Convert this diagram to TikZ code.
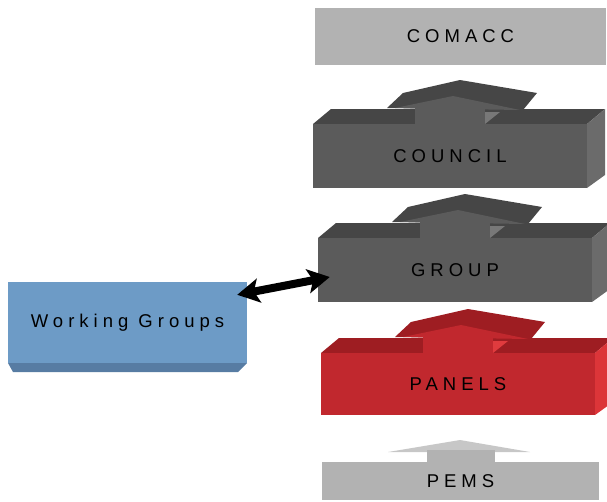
\documentclass[tikz,border=0pt]{standalone}
\usepackage{fontspec}
\usetikzlibrary{arrows.meta,calc}
\newfontfamily\boxfont[LetterSpace=27]{Liberation Sans}
\newlength{\du}
\setlength{\du}{1pt}

\begin{document}
\begin{tikzpicture}[
  face/.style={inner sep=0pt,font=\boxfont\fontsize{18.5}{20}\selectfont},
  linkarrow/.style={line width=8\du,{Stealth[length=22pt,width=24pt,inset=5pt]}-{Stealth[length=22pt,width=24pt,inset=5pt]}}]
\pgftransformxscale{1.000000}
\pgftransformyscale{-1.000000}
\definecolor{flatgrey}{rgb}{0.698000, 0.698000, 0.698000}
\definecolor{flatlight}{rgb}{0.780000, 0.780000, 0.780000}
\definecolor{greyfront}{rgb}{0.356000, 0.356000, 0.356000}
\definecolor{greytop}{rgb}{0.275000, 0.275000, 0.275000}
\definecolor{greyside}{rgb}{0.420000, 0.420000, 0.420000}
\definecolor{greylight}{rgb}{0.470000, 0.470000, 0.470000}
\definecolor{redfront}{rgb}{0.757000, 0.157000, 0.180000}
\definecolor{redtop}{rgb}{0.620000, 0.114000, 0.133000}
\definecolor{redside}{rgb}{0.863000, 0.208000, 0.224000}
\definecolor{redlight}{rgb}{0.880000, 0.230000, 0.245000}
\definecolor{wgfront}{rgb}{0.427000, 0.608000, 0.776000}
\definecolor{wgbottom}{rgb}{0.341000, 0.486000, 0.639000}
\useasboundingbox (0\du,0\du) rectangle (607\du,501\du);

% COMACC
\node[face,fill=flatgrey,minimum width=291\du,minimum height=57\du] (comacc) at (460.5\du,36.5\du){COMACC};

% COUNCIL
\fill[greytop] (313\du,124\du)--(587\du,124\du)--(605\du,109\du)--(331\du,109\du)--cycle;
\fill[greyside] (587\du,124\du)--(605\du,109\du)--(605\du,175\du)--(587\du,188\du)--cycle;
\fill[greytop] (387\du,108\du)--(403\du,93\du)--(460\du,80\du)--(537\du,93\du)--(523\du,110\du)--cycle;
\fill[greyfront] (395\du,108\du)--(453\du,96\du)--(520\du,110\du)--cycle;
\fill[greyfront] (415\du,108\du) rectangle (485\du,124\du);
\fill[greylight] (485\du,112\du)--(500\du,112\du)--(485\du,124\du)--cycle;
\node[face,fill=greyfront,minimum width=274\du,minimum height=64\du] (council) at (450\du,156\du){COUNCIL};

% GROUP
\fill[greytop] (318\du,238\du)--(592\du,238\du)--(610\du,223\du)--(336\du,223\du)--cycle;
\fill[greyside] (592\du,238\du)--(610\du,223\du)--(610\du,289\du)--(592\du,302\du)--cycle;
\fill[greytop] (392\du,222\du)--(408\du,207\du)--(465\du,194\du)--(542\du,207\du)--(528\du,224\du)--cycle;
\fill[greyfront] (400\du,222\du)--(458\du,210\du)--(525\du,224\du)--cycle;
\fill[greyfront] (420\du,222\du) rectangle (490\du,238\du);
\fill[greylight] (490\du,226\du)--(505\du,226\du)--(490\du,238\du)--cycle;
\node[face,fill=greyfront,minimum width=274\du,minimum height=64\du] (group) at (455\du,270\du){GROUP};

% PANELS
\fill[redtop] (321\du,353\du)--(595\du,353\du)--(613\du,338\du)--(339\du,338\du)--cycle;
\fill[redside] (595\du,353\du)--(613\du,338\du)--(613\du,402\du)--(595\du,415\du)--cycle;
\fill[redtop] (395\du,337\du)--(411\du,322\du)--(468\du,309\du)--(545\du,322\du)--(531\du,339\du)--cycle;
\fill[redfront] (403\du,337\du)--(461\du,325\du)--(528\du,339\du)--cycle;
\fill[redfront] (423\du,337\du) rectangle (493\du,353\du);
\fill[redlight] (493\du,341\du)--(508\du,341\du)--(493\du,353\du)--cycle;
\node[face,fill=redfront,minimum width=274\du,minimum height=62\du] (panels) at (458\du,384\du){PANELS};

% PEMS
\fill[flatlight] (388\du,452\du)--(460\du,440\du)--(530\du,452\du)--cycle;
\fill[flatgrey] (427\du,450\du) rectangle (495\du,462\du);
\node[face,fill=flatgrey,minimum width=277\du,minimum height=38\du] (pems) at (460.5\du,481\du){PEMS};

% Working Groups
\fill[wgbottom] (8\du,363\du)--(247\du,363\du)--(238\du,372\du)--(13\du,372\du)--cycle;
\node[face,fill=wgfront,minimum width=239\du,minimum height=81\du] (wg) at (127.5\du,322.5\du){Working Groups};

\draw[linkarrow] ($(wg.north east)+(-10\du,13\du)$) -- ($(group.west)+(12\du,7\du)$);
\end{tikzpicture}
\end{document}
